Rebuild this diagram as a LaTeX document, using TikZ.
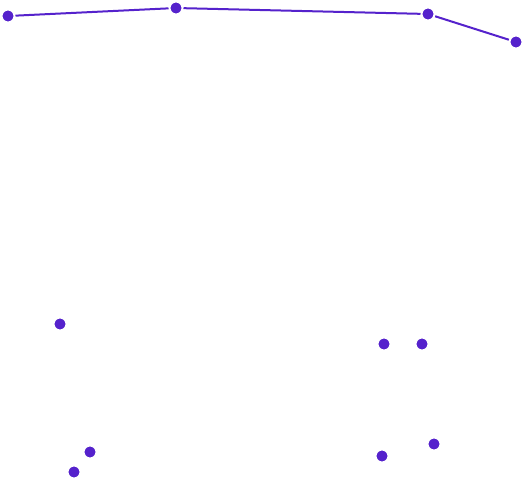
\documentclass[tikz,border=0pt]{standalone}
\definecolor{pur}{HTML}{5522CC}
\begin{document}
\begin{tikzpicture}[x=1pt,y=-1pt,
  dot/.style={circle,fill=pur,draw=white,line width=2pt,minimum size=13pt,inner sep=0pt},
  link/.style={pur,line width=2pt}]
\useasboundingbox[fill=white] (0,0) rectangle (524,480);
\node[dot] (a) at (8,16) {};
\node[dot] (b) at (176,8) {};
\node[dot] (c) at (428,14) {};
\node[dot] (d) at (516,42) {};
\node[dot] (e) at (60,324) {};
\node[dot] (f) at (384,344) {};
\node[dot] (g) at (422,344) {};
\node[dot] (h) at (90,452) {};
\node[dot] (i) at (74,472) {};
\node[dot] (j) at (382,456) {};
\node[dot] (k) at (434,444) {};
\begin{scope}[on background layer/.style={}]
\end{scope}
\draw[link] (a) -- (b) -- (c) -- (d);
\end{tikzpicture}
\end{document}
